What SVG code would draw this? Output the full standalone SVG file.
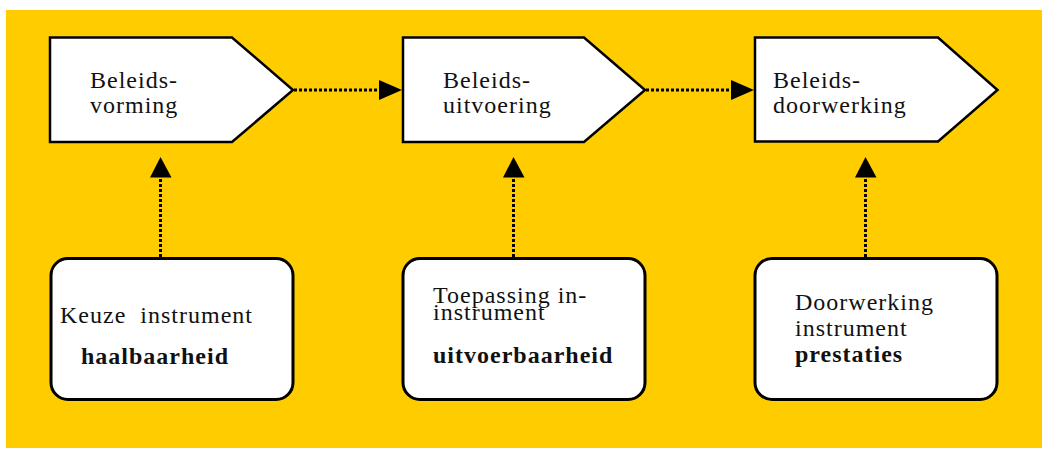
<svg xmlns="http://www.w3.org/2000/svg" width="1050" height="457" viewBox="0 0 1050 457">
<defs>
<style>
.bg{fill:#FFCC00}
.pent{fill:#fff;stroke:#000;stroke-width:2.5;stroke-linejoin:miter}
.rbox{fill:#fff;stroke:#000;stroke-width:3}
.conn{stroke:#000;stroke-width:3;stroke-dasharray:3 2;fill:none}
.head{fill:#000}
text{font-family:"Liberation Serif","Times New Roman",serif;font-size:24px;fill:#111;letter-spacing:1px}
.b{font-weight:bold}
</style>
</defs>
<rect class="bg" x="6" y="10" width="1036" height="438"/>
<g id="connectors">
<line class="conn" x1="294" y1="90" x2="380" y2="90"/>
<polygon class="head" points="379,80 402,90 379,100"/>
<line class="conn" x1="646" y1="90" x2="732" y2="90"/>
<polygon class="head" points="731,80 754,90 731,100"/>
<line class="conn" x1="160.5" y1="257" x2="160.5" y2="177"/>
<polygon class="head" points="150,177.5 160.5,157 171.5,177.5"/>
<line class="conn" x1="513.5" y1="257" x2="513.5" y2="177"/>
<polygon class="head" points="503,177.5 513.5,157 524.5,177.5"/>
<line class="conn" x1="865.5" y1="257" x2="865.5" y2="177"/>
<polygon class="head" points="855,177.5 865.5,157 876.5,177.5"/>
</g>
<g id="node-beleidsvorming">
<polygon class="pent" points="50,37.5 232,37.5 293,90 232,142 50,142"/>
<text x="90" y="88">Beleids-</text>
<text x="90" y="113">vorming</text>
</g>
<g id="node-beleidsuitvoering">
<polygon class="pent" points="403,37.5 584,37.5 645,90 584,142 403,142"/>
<text x="443" y="88">Beleids-</text>
<text x="443" y="113">uitvoering</text>
</g>
<g id="node-beleidsdoorwerking">
<polygon class="pent" points="755,37.5 938,37.5 997.5,90 938,141.5 755,141.5"/>
<text x="773" y="88">Beleids-</text>
<text x="773" y="112.5">doorwerking</text>
</g>
<g id="node-keuze">
<rect class="rbox" x="51" y="258.5" width="242" height="141" rx="17" ry="17"/>
<text x="60" y="322.5" xml:space="preserve">Keuze  instrument</text>
<text class="b" x="81" y="364">haalbaarheid</text>
</g>
<g id="node-toepassing">
<rect class="rbox" x="403" y="258.5" width="242" height="141" rx="17" ry="17"/>
<text x="433" y="302.5">Toepassing in-</text>
<text x="433" y="320">instrument</text>
<text class="b" x="433" y="362.5">uitvoerbaarheid</text>
</g>
<g id="node-doorwerking">
<rect class="rbox" x="755" y="258.5" width="242" height="141" rx="17" ry="17"/>
<text x="795" y="310">Doorwerking</text>
<text x="795" y="335.5">instrument</text>
<text class="b" x="795" y="361.5">prestaties</text>
</g>
</svg>
